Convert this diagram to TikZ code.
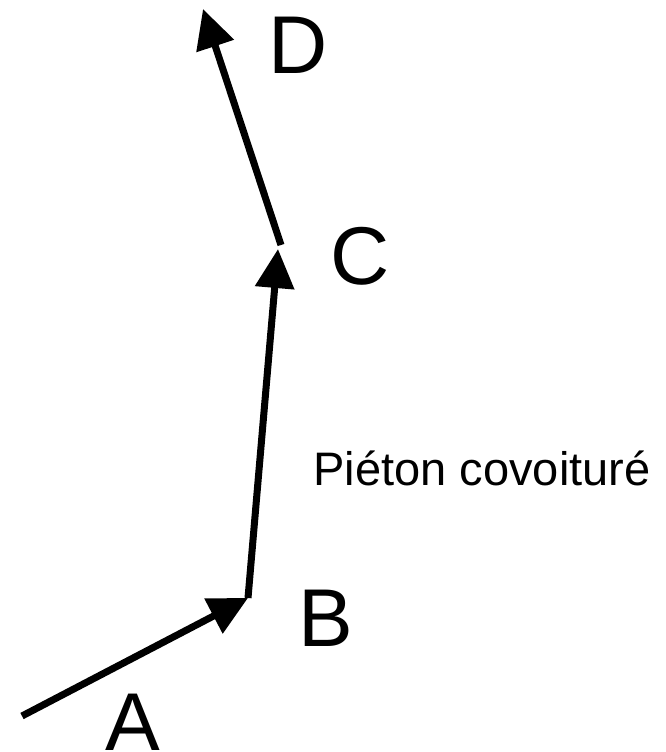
\documentclass[tikz,border=0pt]{standalone}
\usepackage{fontspec}
\setmainfont{Liberation Sans}
\usetikzlibrary{arrows.meta}
\tikzset{
  leg/.style={line width=7pt, -{Triangle[length=39pt,width=38pt]}},
  ptlbl/.style={inner sep=0pt, font=\fontsize{82}{90}\selectfont},
  txtlbl/.style={inner sep=0pt, font=\fontsize{47}{54}\selectfont},
  every picture/.style={line cap=butt, line join=miter}
}
\begin{document}
\begin{tikzpicture}[x=1pt, y=-1pt]
  \useasboundingbox (0,0) rectangle (666,752);
  \coordinate (pa) at (22,716);
  \coordinate (pb) at (248,598);
  \coordinate (pc) at (278,249);
  \coordinate (pd) at (203,9);

  \node[ptlbl] (a) at (133,722) {A};
  \node[ptlbl] (b) at (326,618) {B};
  \node[ptlbl] (c) at (360,256) {C};
  \node[ptlbl] (d) at (298,45) {D};
  \node[txtlbl] (walk) at (482,468) {Piéton covoituré};

  \draw[leg] (pa)--(pb);
  \draw[leg] (pb)--(pc);
  \draw[leg] ([shift={(3,-4)}]pc)--(pd);
\end{tikzpicture}
\end{document}
